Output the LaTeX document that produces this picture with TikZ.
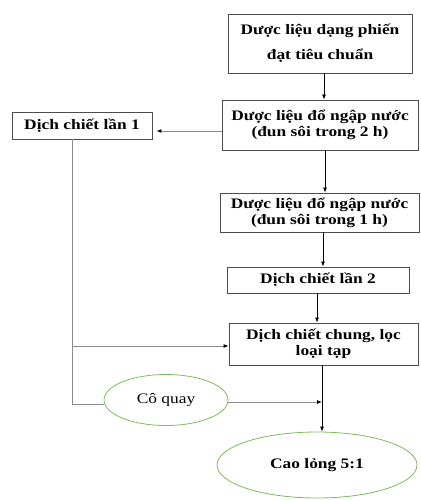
\documentclass[tikz,border=0pt]{standalone}
\usepackage{fontspec}
\setmainfont[FakeStretch=1.2]{Liberation Serif}
\usetikzlibrary{shapes.geometric,arrows.meta}
\begin{document}
\begin{tikzpicture}[x=1pt,y=-1pt,
  box/.style={draw=black!70,line width=0.8pt,rectangle,inner sep=0pt,align=center,
    font=\fontsize{14.5}{16}\selectfont\bfseries},
  oval/.style={draw=ovgreen,line width=0.8pt,ellipse,inner sep=0pt,align=center},
  arr/.style={-{Latex[length=5pt,width=4pt]},line width=0.8pt,black},
  garr/.style={-{Latex[length=5pt,width=4pt,black]},line width=0.9pt,draw=black!45},
  gline/.style={line width=0.9pt,draw=black!45}]
\definecolor{ovgreen}{HTML}{7DBB5A}
\useasboundingbox (0,0) rectangle (420,500);
\node[box,minimum width=184pt,minimum height=59pt,font=\fontsize{14.5}{25}\selectfont\bfseries] (b1) at (320,43.5) {Dược liệu dạng phiến\\đạt tiêu chuẩn};
\node[box,minimum width=196pt,minimum height=50pt] (b2) at (320,125) {Dược liệu đổ ngập nước\\(đun sôi trong 2 h)};
\node[box,minimum width=140pt,minimum height=27pt] (l1) at (82,125.5) {Dịch chiết lần 1};
\node[box,minimum width=199pt,minimum height=39pt] (b3) at (319.5,212.5) {Dược liệu đổ ngập nước\\(đun sôi trong 1 h)};
\node[box,minimum width=182pt,minimum height=26pt] (b4) at (318,280) {Dịch chiết lần 2};
\node[box,minimum width=189pt,minimum height=42pt] (b5) at (323.5,344) {Dịch chiết chung, lọc\\loại tạp};
\node[oval,minimum width=124pt,minimum height=51pt,font=\fontsize{14.5}{16}\selectfont] (cq) at (166,400) {Cô quay};
\node[oval,minimum width=200pt,minimum height=66pt,font=\fontsize{14.5}{16}\selectfont\bfseries] (cao) at (317,465) {Cao lỏng 5:1};
% main chain
\draw[arr] (b1.south -| 324,0) -- (b2.north -| 324,0);
\draw[arr] (b2.south -| 325,0) -- (b3.north -| 325,0);
\draw[arr] (b3.south -| 323,0) -- (b4.north -| 323,0);
\draw[arr] (b4.south -| 317,0) -- (b5.north -| 317,0);
\draw[arr] (b5.south -| 322,0) -- (cao.north -| 322,0);
% side
\draw[garr,shorten >=4pt] (b2.west |- 0,131) -- (l1.east |- 0,131);
\coordinate (lb) at (l1.south -| 72,0);
\coordinate (lc) at (72,404);
\draw[gline] (lb) -- (lc) -- (lc -| cq.west);
\draw[garr] (72,346) -- (b5.west |- 0,346);
\coordinate (j) at (322,402);
\draw[garr] (cq.east |- j) -- (j);
\end{tikzpicture}
\end{document}
